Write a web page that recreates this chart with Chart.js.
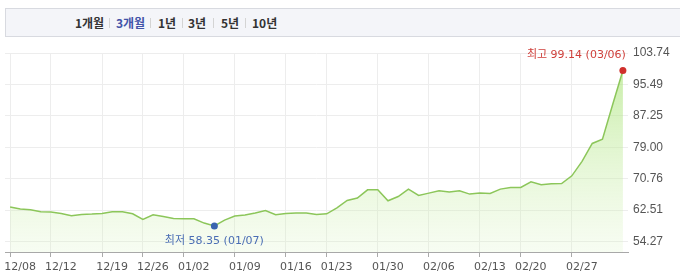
<!DOCTYPE html>
<html>
<head>
<meta charset="utf-8">
<script src="https://cdn.jsdelivr.net/npm/chart.js@4"></script>
<style>
  body { margin: 0; background: #fff; }
  #wrap { position: relative; width: 680px; height: 280px; overflow: hidden; }
  #tabs {
    position: absolute; left: 5px; top: 8px; width: 690px; height: 29px;
    background: #f4f5f9; border: 1px solid #d8dae0; box-sizing: border-box;
    font-family: "Noto Sans CJK KR", "Noto Sans", sans-serif; font-size: 12px;
    font-weight: bold; color: #333;
  }
  #tabs span { position: absolute; top: 6px; line-height: 16px; }
  #tabs span.on { color: #4253a8; }
  #tabs i { position: absolute; top: 9px; width: 1px; height: 10px; background: #d4d4d4; }
  canvas { position: absolute; left: 0; top: 0; }
</style>
</head>
<body>
<div id="wrap">
  <canvas id="chart" width="680" height="280"></canvas>
  <div id="tabs"></div>
</div>
<script>
const dates = [
  '12/08', '12/09', '12/10', '12/11',
  '12/12', '12/13', '12/14', '12/15', '12/16',
  '12/19', '12/20', '12/21', '12/22',
  '12/26', '12/27', '12/28', '12/29',
  '01/02', '01/03', '01/04', '01/07', '01/08',
  '01/09', '01/10', '01/11', '01/12', '01/13',
  '01/16', '01/17', '01/18', '01/19',
  '01/23', '01/24', '01/25', '01/26', '01/27',
  '01/30', '01/31', '02/01', '02/02', '02/03',
  '02/06', '02/07', '02/08', '02/09', '02/10',
  '02/13', '02/14', '02/15', '02/16',
  '02/20', '02/21', '02/22', '02/23', '02/24',
  '02/27', '02/28', '03/01', '03/02', '03/03', '03/06',
];

const prices = [
  63.29, 62.76, 62.58, 62.06,
  61.98, 61.61, 61.01, 61.35, 61.45,
  61.61, 62.06, 62.06, 61.53,
  60.04, 61.27, 60.82, 60.30,
  60.22, 60.22, 59.09, 58.35, 59.88,
  60.93, 61.19, 61.72, 62.40, 61.27,
  61.61, 61.72, 61.72, 61.35,
  61.53, 63.11, 65.02, 65.65, 67.83,
  67.83, 64.94, 66.07, 68.01, 66.33,
  66.96, 67.56, 67.25, 67.56, 66.70,
  66.96, 66.86, 68.01, 68.43,
  68.43, 69.92, 69.14, 69.40, 69.48,
  71.50, 75.30, 80.00, 81.12, 90.20, 99.14,
];

const tickDates = [
  '12/08', '12/12', '12/19', '12/26', '01/02', '01/09', '01/16',
  '01/23', '01/30', '02/06', '02/13', '02/20', '02/27',
];

const yTicks = [54.27, 62.51, 70.76, 79.0, 87.25, 95.49, 103.74];
const yMin = 51.5;
const yMax = 103.74;

const periods = ['1개월', '3개월', '1년', '3년', '5년', '10년'];
const activePeriod = '3개월';

function buildTabs() {
  const tabs = document.getElementById('tabs');
  const lefts = [69, 110, 152, 182, 215, 246];
  const seps = [103, 144, 176, 207, 239];
  periods.forEach((p, i) => {
    const s = document.createElement('span');
    s.textContent = p;
    s.style.left = lefts[i] + 'px';
    if (p === activePeriod) s.className = 'on';
    tabs.appendChild(s);
  });
  seps.forEach((x) => {
    const sep = document.createElement('i');
    sep.style.left = x + 'px';
    tabs.appendChild(sep);
  });
}

const hiIdx = prices.indexOf(Math.max(...prices));
const loIdx = prices.indexOf(Math.min(...prices));

const markerPlugin = {
  id: 'markers',
  afterDatasetsDraw(chart) {
    const ctx = chart.ctx;
    const pts = chart.getDatasetMeta(0).data;
    const hi = pts[hiIdx];
    const lo = pts[loIdx];
    ctx.save();
    ctx.font = '11px "DejaVu Sans", "Noto Sans CJK KR", sans-serif';
    ctx.textBaseline = 'middle';

    ctx.fillStyle = '#cf3f3a';
    ctx.textAlign = 'right';
    ctx.fillText(`최고 ${prices[hiIdx].toFixed(2)} (${dates[hiIdx]})`, hi.x + 3, hi.y - 15);

    ctx.fillStyle = '#4a6db4';
    ctx.textAlign = 'center';
    ctx.fillText(`최저 ${prices[loIdx].toFixed(2)} (${dates[loIdx]})`, lo.x, lo.y + 15);
    ctx.restore();
  },
};

function fillGradient(context) {
  const area = context.chart.chartArea;
  if (!area) return 'rgba(200,240,170,0.3)';
  const g = context.chart.ctx.createLinearGradient(0, area.top, 0, area.bottom);
  g.addColorStop(0, 'rgba(170,228,120,0.7)');
  g.addColorStop(1, 'rgba(215,242,190,0.2)');
  return g;
}

buildTabs();

new Chart(document.getElementById('chart'), {
  type: 'line',
  data: {
    labels: dates,
    datasets: [
      {
        data: prices,
        borderColor: '#8cc65a',
        borderWidth: 1.5,
        fill: 'start',
        backgroundColor: fillGradient,
        tension: 0,
        pointRadius: (c) => (c.dataIndex === hiIdx || c.dataIndex === loIdx ? 3.5 : 0),
        pointBackgroundColor: (c) => (c.dataIndex === hiIdx ? '#d0302c' : '#3a64b0'),
        pointBorderWidth: 0,
      },
    ],
  },
  options: {
    responsive: false,
    animation: false,
    layout: { padding: { top: 53, left: 5, right: 0, bottom: 0 } },
    plugins: { legend: { display: false }, tooltip: { enabled: false } },
    scales: {
      x: {
        type: 'category',
        offset: true,
        afterBuildTicks: (scale) => {
          scale.ticks = scale.ticks.filter((t) => tickDates.includes(dates[t.value]));
        },
        afterFit: (scale) => {
          scale.height = 28;
          scale.paddingLeft = 0;
          scale.paddingRight = 0;
        },
        grid: { color: '#ededed', offset: false, tickLength: 5, tickColor: '#aaa' },
        border: { color: '#a8a8a8' },
        ticks: {
          autoSkip: false,
          maxRotation: 0,
          labelOffset: 10,
          padding: 4,
          color: '#555',
          font: { family: '"DejaVu Sans", sans-serif', size: 11 },
        },
      },
      y: {
        position: 'right',
        min: yMin,
        max: yMax,
        afterBuildTicks: (scale) => {
          scale.ticks = yTicks.map((v) => ({ value: v }));
        },
        afterFit: (scale) => { scale.width = 52; },
        grid: { color: '#ededed', drawTicks: false },
        border: { display: false },
        ticks: {
          padding: 5,
          color: '#555',
          font: { family: '"Liberation Sans", Arial, sans-serif', size: 12 },
          callback: (v) => Number(v).toFixed(2),
        },
      },
    },
  },
  plugins: [markerPlugin],
});
</script>
</body>
</html>
